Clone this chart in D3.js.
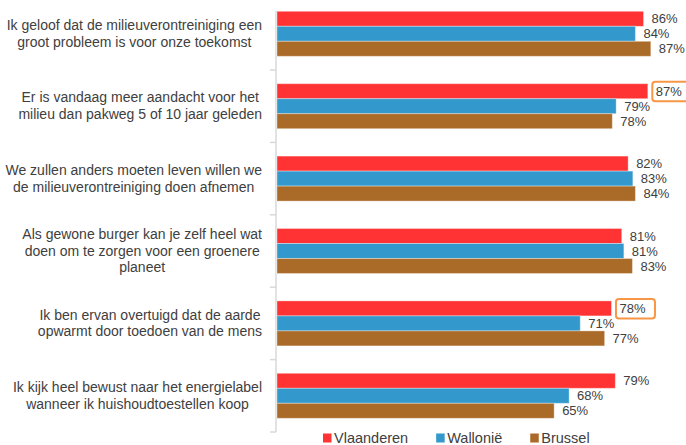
<!DOCTYPE html>
<html>
<head>
<meta charset="utf-8">
<script src="https://cdn.jsdelivr.net/npm/d3@7"></script>
<style>
    body { margin: 0; background: #fff; }
    svg { display: block; font-family: "Liberation Sans", Arial, sans-serif; }
</style>
</head>
<body>
<div id="vis"></div>
<script>
//statements, one line per text row
const categories = [
    ['Ik geloof dat de milieuverontreiniging een', 'groot probleem is voor onze toekomst'],
    ['Er is vandaag meer aandacht voor het', 'milieu dan pakweg 5 of 10 jaar geleden'],
    ['We zullen anders moeten leven willen we', 'de milieuverontreiniging doen afnemen'],
    ['Als gewone burger kan je zelf heel wat', 'doen om te zorgen voor een groenere', 'planeet'],
    ['Ik ben ervan overtuigd dat de aarde', 'opwarmt door toedoen van de mens'],
    ['Ik kijk heel bewust naar het energielabel', 'wanneer ik huishoudtoestellen koop']
]

const series = ['Vlaanderen', 'Wallonië', 'Brussel']
const colors = ['#ff3333', '#3399cc', '#aa6a28']

//percentages
const vlaanderen = [85.7, 86.7, 82.1, 80.6, 78.2, 79.1]
const wallonie = [83.8, 79.3, 83.2, 81.1, 70.9, 68.3]
const brussel = [87.4, 78.4, 83.8, 83.1, 76.6, 64.8]

//labels that get an orange box: [category index, series index]
const highlighted = [[1, 0], [4, 0]]

const width = 686
const height = 445

const values = [vlaanderen, wallonie, brussel]
const data = categories.map((c, i) => ({
    index: i,
    lines: c,
    bars: series.map((s, j) => ({ series: s, j: j, value: values[j][i] }))
}))

const svg = d3.select('#vis')
    .append('svg')
    .attr('width', width)
    .attr('height', height)

//x goes past the window, 100% is not visible
const x = d3.scaleLinear()
    .domain([0, 100])
    .range([277, 277 + 427.7])

const y = d3.scaleBand()
    .domain(d3.range(categories.length))
    .range([-2.4, 432])

const groupHeight = 45
const yInner = d3.scaleBand()
    .domain(d3.range(series.length))
    .range([(y.bandwidth() - groupHeight) / 2, (y.bandwidth() + groupHeight) / 2])

const color = d3.scaleOrdinal()
    .domain(d3.range(series.length))
    .range(colors)

//axis line with ticks between categories
svg.append('line')
    .attr('x1', 276).attr('x2', 276)
    .attr('y1', 11).attr('y2', 432)
    .attr('stroke', '#d9d9d9')
    .attr('stroke-width', 1.5)

svg.selectAll('.tick')
    .data(d3.range(1, categories.length + 1))
    .enter()
    .append('line')
    .attr('class', 'tick')
    .attr('x1', 270).attr('x2', 276)
    .attr('y1', d => y.range()[0] + d * y.step())
    .attr('y2', d => y.range()[0] + d * y.step())
    .attr('stroke', '#d9d9d9')
    .attr('stroke-width', 1.5)

const groups = svg.selectAll('.group')
    .data(data)
    .enter()
    .append('g')
    .attr('class', 'group')
    .attr('transform', d => `translate(0, ${y(d.index)})`)

groups.selectAll('rect')
    .data(d => d.bars)
    .enter()
    .append('rect')
    .attr('x', x(0))
    .attr('y', d => yInner(d.j))
    .attr('width', d => x(d.value) - x(0))
    .attr('height', yInner.bandwidth())
    .attr('fill', d => color(d.j))
    .attr('stroke', 'rgba(255,255,255,0.35)')
    .attr('stroke-width', 1)

groups.selectAll('.value')
    .data(d => d.bars)
    .enter()
    .append('text')
    .attr('class', 'value')
    .attr('x', d => x(d.value) + 8)
    .attr('y', d => yInner(d.j) + yInner.bandwidth() / 2)
    .attr('dy', '0.35em')
    .attr('font-size', 13)
    .attr('fill', '#404040')
    .text(d => Math.round(d.value) + '%')

//orange boxes round some labels
highlighted.forEach(([i, j]) => {
    const v = values[j][i]
    svg.append('rect')
        .attr('x', x(v) + 4.5)
        .attr('y', y(i) + yInner(j) + yInner.bandwidth() / 2 - 9.5)
        .attr('width', 39)
        .attr('height', 19.5)
        .attr('rx', 3)
        .attr('fill', 'none')
        .attr('stroke', '#f79646')
        .attr('stroke-width', 2)
})

//category labels, centred lines, block right aligned
const lineHeight = 16.7
groups.each(function (d) {
    const label = d3.select(this).append('text')
        .attr('font-size', 14)
        .attr('fill', '#404040')
        .attr('text-anchor', 'middle')
    const spans = label.selectAll('tspan')
        .data(d.lines)
        .enter()
        .append('tspan')
        .attr('y', (l, k) => y.bandwidth() / 2 + (k - (d.lines.length - 1) / 2) * lineHeight)
        .attr('dy', '0.33em')
        .text(l => l)
    const maxWidth = d3.max(spans.nodes(), n => n.getComputedTextLength())
    spans.attr('x', 262 - maxWidth / 2)
})

//legend
const legend = svg.append('g')
let lx = 323
series.forEach((s, j) => {
    legend.append('rect')
        .attr('x', lx)
        .attr('y', 433.5)
        .attr('width', 8.5)
        .attr('height', 9)
        .attr('fill', color(j))
    const t = legend.append('text')
        .attr('x', lx + 11)
        .attr('y', 443)
        .attr('font-size', 14.5)
        .attr('fill', '#404040')
        .text(s)
    lx += 11 + t.node().getComputedTextLength() + 28
})
</script>
</body>
</html>
